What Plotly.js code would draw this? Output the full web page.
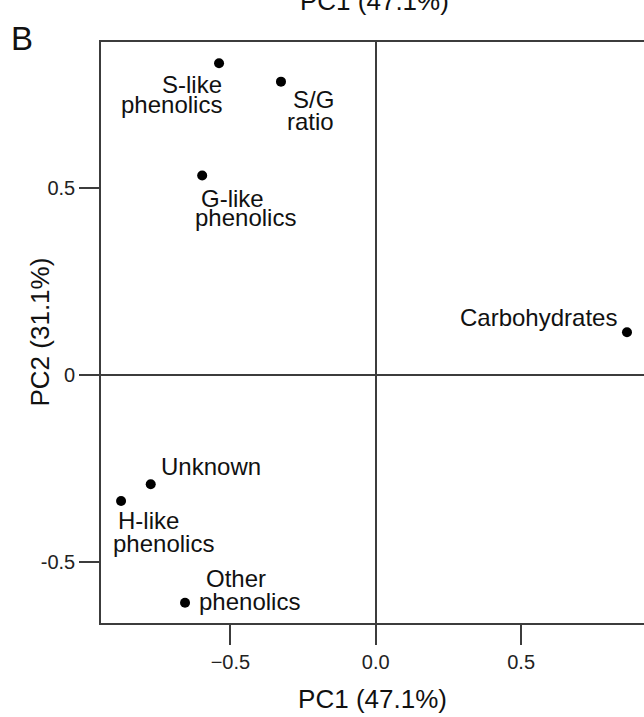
<!DOCTYPE html>
<html>
<head>
<meta charset="utf-8">
<script src="https://cdn.plot.ly/plotly-3.0.1.min.js"></script>
<style>html,body{margin:0;padding:0;overflow:hidden;background:#fff;}</style>
</head>
<body>
<div id="chart" style="width:644px;height:717px;"></div>
<script>
// Data
var variables = ["S-like phenolics", "S/G ratio", "G-like phenolics", "Carbohydrates", "Unknown", "H-like phenolics", "Other phenolics"];
var pc1 = [-0.539, -0.326, -0.597, 0.864, -0.774, -0.876, -0.656];
var pc2 = [0.833, 0.784, 0.533, 0.114, -0.292, -0.337, -0.609];
var labelLines = [["S-like", "phenolics"], ["S/G", "ratio"], ["G-like", "phenolics"], ["Carbohydrates"], ["Unknown"], ["H-like", "phenolics"], ["Other", "phenolics"]];
var xTickVals = [-0.5, 0, 0.5];
var xTickText = ["\u22120.5", "0.0", "0.5"];
var yTickVals = [-0.5, 0, 0.5];
var yTickText = ["-0.5", "0", "0.5"];
var xTitle = "PC1 (47.1%)";
var yTitle = "PC2 (31.1%)";
var panelLetter = "B";

// Label placement styles (pixel offsets from each point): [xanchor, dx, dy(down)]
var labelStyle = [
  [["right", 5, 21.4], ["right", 5, 41.1]],
  [["right", 55, 17.5], ["right", 55, 39.8]],
  [["center", 30.2, 22.5], ["center", 43.7, 42.4]],
  [["right", -7.7, -15.3]],
  [["left", 8.3, -17.6]],
  [["left", -5, 19.2], ["left", -10.5, 42]],
  [["left", 18.5, -24.4], ["left", 11.5, -1.2]]
];

var FONT = "Liberation Sans, Arial, Helvetica, sans-serif";
var LINE = "#3c3c3c";

var annotations = [];
for (var i = 0; i < variables.length; i++) {
  for (var j = 0; j < labelLines[i].length; j++) {
    var st = labelStyle[i][j];
    annotations.push({
      x: pc1[i], y: pc2[i], xref: "x", yref: "y",
      text: labelLines[i][j], showarrow: false,
      xanchor: st[0], yanchor: "middle",
      xshift: st[1], yshift: -st[2],
      font: {family: FONT, size: 24, color: "#111"}
    });
  }
}
// Top axis title (partially cut off, as in the original)
annotations.push({
  xref: "paper", yref: "paper", x: 0.5046, y: 1, yanchor: "bottom", xanchor: "center",
  yshift: 24, text: xTitle, showarrow: false,
  font: {family: FONT, size: 26, color: "#111"}
});
// Y axis title
annotations.push({
  xref: "paper", yref: "paper", x: 0, y: 0.5, xanchor: "center", yanchor: "middle",
  xshift: -62, textangle: -90, text: yTitle, showarrow: false,
  font: {family: FONT, size: 26, color: "#111"}
});
// Panel letter
annotations.push({
  xref: "paper", yref: "paper", x: 0, y: 1, xanchor: "left", yanchor: "bottom",
  xshift: -92, yshift: -17, text: panelLetter, showarrow: false,
  font: {family: FONT, size: 33, color: "#111"}
});

var trace = {
  x: pc1, y: pc2, text: variables, type: "scatter", mode: "markers",
  marker: {color: "#000", size: 10},
  hoverinfo: "text", cliponaxis: false
};

var layout = {
  width: 644, height: 717,
  margin: {l: 101, r: 0, t: 42, b: 94},
  paper_bgcolor: "#fff", plot_bgcolor: "#fff",
  showlegend: false,
  font: {family: FONT, color: "#111"},
  xaxis: {
    range: [-0.945, 0.9225],
    tickvals: xTickVals, ticktext: xTickText,
    ticks: "outside", ticklen: 20, tickwidth: 1.8, tickcolor: LINE,
    tickfont: {family: FONT, size: 20, color: "#222"},
    showgrid: false, zeroline: true, zerolinecolor: LINE, zerolinewidth: 1.8,
    showline: true, linecolor: LINE, linewidth: 1.8, mirror: true,
    title: {text: xTitle, font: {family: FONT, size: 26, color: "#111"}, standoff: 18}
  },
  yaxis: {
    range: [-0.663, 0.890],
    tickvals: yTickVals, ticktext: yTickText,
    ticks: "outside", ticklen: 20, tickwidth: 1.8, tickcolor: LINE,
    tickfont: {family: FONT, size: 20, color: "#222"},
    showgrid: false, zeroline: true, zerolinecolor: LINE, zerolinewidth: 1.8,
    showline: true, linecolor: LINE, linewidth: 1.8, mirror: false
  },
  annotations: annotations
};

Plotly.newPlot("chart", [trace], layout, {displayModeBar: false, staticPlot: true});
</script>
</body>
</html>
